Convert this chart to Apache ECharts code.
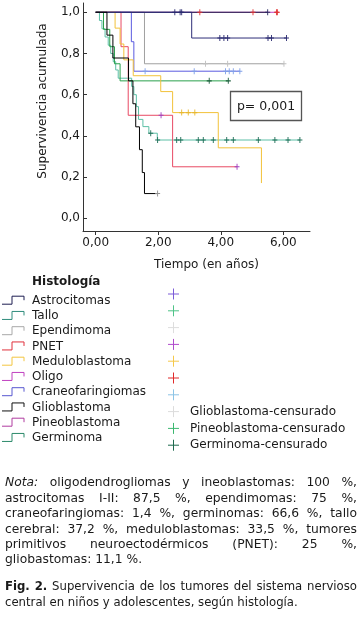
<!DOCTYPE html>
<html><head><meta charset="utf-8">
<script src="https://cdn.jsdelivr.net/npm/echarts@6/dist/echarts.min.js"></script>
<style>html,body{margin:0;padding:0;background:#fff}#c{width:363px;height:619px}</style>
</head><body><div id="c"></div>
<script>
// ---------------- DATA ----------------
const seriesNames = ['Astrocitomas','Tallo','Ependimoma','PNET','Meduloblastoma','Oligo','Craneofaringiomas','Glioblastoma','Pineoblastoma','Germinoma'];

const astroTime = [0, 3.07, 6.10];
const astroSurv = [1, 0.875, 0.875];
const astroCensT = [2.53, 2.70, 2.75, 3.97, 4.10, 4.22, 5.51, 5.62, 6.10];
const astroCensS = [1, 1, 1, 0.875, 0.875, 0.875, 0.875, 0.875, 0.875];

const talloTime = [0, 0.12, 0.20, 0.30, 0.40, 0.48, 0.56, 0.64, 0.72, 1.15, 1.22, 1.30, 1.37, 1.51, 1.70, 1.97, 6.53];
const talloSurv = [1, 0.96, 0.92, 0.88, 0.84, 0.80, 0.76, 0.72, 0.68, 0.64, 0.60, 0.542, 0.48, 0.445, 0.413, 0.38, 0.38];
const talloCensT = [1.76, 1.98, 2.59, 2.72, 3.28, 3.44, 3.76, 4.19, 4.40, 5.20, 5.73, 6.15, 6.53];
const talloCensS = [0.413, 0.38, 0.38, 0.38, 0.38, 0.38, 0.38, 0.38, 0.38, 0.38, 0.38, 0.38, 0.38];

const ependTime = [0, 1.56, 6.02];
const ependSurv = [1, 0.75, 0.75];
const ependCensT = [3.51, 4.22, 6.02];
const ependCensS = [0.75, 0.75, 0.75];

const pnetTime = [0, 0.81, 1.04, 2.46, 4.52];
const pnetSurv = [1, 0.833, 0.5, 0.25, 0.25];
const pnetCensT = [2.09, 4.52];
const pnetCensS = [0.5, 0.25];

const meduTime = [0, 0.62, 0.78, 0.90, 1.20, 2.08, 2.46, 3.92, 5.30];
const meduSurv = [1, 0.923, 0.846, 0.769, 0.692, 0.615, 0.513, 0.342, 0.171];
const meduCensT = [2.75, 2.96, 3.17];
const meduCensS = [0.513, 0.513, 0.513];

const oligoTime = [0, 5.81];
const oligoSurv = [1, 1];
const oligoCensT = [3.33, 5.03, 5.78, 5.81];
const oligoCensS = [1, 1, 1, 1];

const craneoTime = [0, 1.14, 1.22, 4.61];
const craneoSurv = [1, 0.857, 0.714, 0.714];
const craneoCensT = [1.58, 3.15, 4.15, 4.27, 4.40, 4.61];
const craneoCensS = [0.714, 0.714, 0.714, 0.714, 0.714, 0.714];

const glioTime = [0, 0.36, 0.55, 1.05, 1.19, 1.28, 1.40, 1.49, 1.56, 1.98];
const glioSurv = [1, 0.889, 0.778, 0.667, 0.556, 0.444, 0.333, 0.222, 0.12, 0.12];
const glioCensT = [1.98];
const glioCensS = [0.12];

const pineoTime = [0, 5.50];
const pineoSurv = [1, 1];
const pineoCensT = [5.50];
const pineoCensS = [1];

const germTime = [0, 0.25, 0.45, 0.60, 0.78, 4.24];
const germSurv = [1, 0.917, 0.833, 0.75, 0.667, 0.667];
const germCensT = [3.63, 4.24];
const germCensS = [0.667, 0.667];

const yTicks = [0, 0.2, 0.4, 0.6, 0.8, 1.0];
const xTicks = [0, 2, 4, 6];
const censorLegendLabels = ['', '', '', '', '', '', '', 'Glioblastoma-censurado', 'Pineoblastoma-censurado', 'Germinoma-censurado'];
const pValueText = 'p= 0,001';
const legendTitle = 'Histología';
const xAxisName = 'Tiempo (en años)';
const yAxisName = 'Supervivencia acumulada';
const noteLines = [
  'Nota: oligodendrogliomas y ineoblastomas: 100 %,',
  'astrocitomas I-II: 87,5 %, ependimomas: 75 %,',
  'craneofaringiomas: 1,4 %, germinomas: 66,6 %, tallo',
  'cerebral: 37,2 %, meduloblastomas: 33,5 %, tumores',
  'primitivos neuroectodérmicos (PNET): 25 %,',
  'gliobastomas: 11,1 %.'
];
const captionLines = [
  'Fig. 2. Supervivencia de los tumores del sistema nervioso',
  'central en niños y adolescentes, según histología.'
];

// ---------------- STYLE ----------------
const times = [astroTime, talloTime, ependTime, pnetTime, meduTime, oligoTime, craneoTime, glioTime, pineoTime, germTime];
const survs = [astroSurv, talloSurv, ependSurv, pnetSurv, meduSurv, oligoSurv, craneoSurv, glioSurv, pineoSurv, germSurv];
const censT = [astroCensT, talloCensT, ependCensT, pnetCensT, meduCensT, oligoCensT, craneoCensT, glioCensT, pineoCensT, germCensT];
const censS = [astroCensS, talloCensS, ependCensS, pnetCensS, meduCensS, oligoCensS, craneoCensS, glioCensS, pineoCensS, germCensS];

const lineColors = ['#2e2e78', '#5cbfa6', '#a0a0a0', '#e84a64', '#f2c23a', '#c040c0', '#5a5ae0', '#000000', '#1e1e48', '#2aa04c'];
const censorColors = ['#2a2a70', '#1f6f58', '#c0c0c0', '#a040c0', '#e8b830', '#e03434', '#80a0e8', '#909090', '#2a2a60', '#1f5f3f'];
const legendLineColors = ['#1c1c50', '#2e8c7c', '#a8a8a8', '#e0303c', '#f3c640', '#c040c0', '#5858d0', '#111111', '#b03ca0', '#2b8a6a'];
const legendCrossColors = ['#7c5cd8', '#4fc488', '#dddddd', '#b04ccc', '#f5c84a', '#e02a2a', '#8cc4e6', '#dcdcdc', '#3cb870', '#1e6a4e'];
const zOrder = [6, 3, 2, 4, 5, 2, 4, 7, 5, 3];

const FONT = "'DejaVu Sans', Verdana, sans-serif";
const TXT = '#1a1a1a';
const fN = '12px ' + FONT, fI = 'italic 12px ' + FONT, fB = 'bold 12px ' + FONT;
const nN = '12.3px ' + FONT, nI = 'italic 12.3px ' + FONT;
const cN = '11.7px ' + FONT, cB = 'bold 11.7px ' + FONT;

const mctx = document.createElement('canvas').getContext('2d');
function measure(t, font) { mctx.font = font; return mctx.measureText(t).width; }

function lineWords(words, y, left, right, justify, baseFont) {
  const widths = words.map(w => measure(w.t, w.font));
  const total = widths.reduce((a, b) => a + b, 0);
  const gap = (justify && words.length > 1) ? (right - left - total) / (words.length - 1) : measure(' ', baseFont);
  let x = left;
  const els = [];
  words.forEach((w, i) => {
    els.push({ type: 'text', x: x, y: y, silent: true,
      style: { text: w.t, font: w.font, fill: TXT, textVerticalAlign: 'middle' } });
    x += widths[i] + gap;
  });
  return els;
}

const graphics = [];
// axis names
graphics.push({ type: 'text', x: 206.5, y: 265, silent: true,
  style: { text: xAxisName, font: fN, fill: TXT, textAlign: 'center', textVerticalAlign: 'middle' } });
graphics.push({ type: 'text', x: 43, y: 101, rotation: Math.PI / 2, silent: true,
  style: { text: yAxisName, font: fN, fill: TXT, textAlign: 'center', textVerticalAlign: 'middle' } });
// p value box
graphics.push({ type: 'rect', shape: { x: 230.5, y: 91.5, width: 71, height: 29 }, silent: true,
  style: { fill: '#fff', stroke: '#555', lineWidth: 1.3 }, z: 50 });
graphics.push({ type: 'text', x: 266, y: 106.5, silent: true, z: 51,
  style: { text: pValueText, font: '12.5px ' + FONT, fill: TXT, textAlign: 'center', textVerticalAlign: 'middle' } });
// legend title
graphics.push({ type: 'text', x: 32, y: 282, silent: true,
  style: { text: legendTitle, font: fB, fill: TXT, textVerticalAlign: 'middle' } });
// legend lines
seriesNames.forEach((n, i) => {
  const yc = 300.7 + i * 15.25;
  graphics.push({ type: 'polyline', silent: true,
    shape: { points: [[2, yc + 3.5], [12, yc + 3.5], [12, yc - 4.5], [24, yc - 4.5], [24, yc - 0.5]] },
    style: { stroke: legendLineColors[i], fill: null, lineWidth: 1 } });
  graphics.push({ type: 'text', x: 32, y: yc, silent: true,
    style: { text: n, font: fN, fill: TXT, textVerticalAlign: 'middle' } });
});
// legend crosses
censorLegendLabels.forEach((lab, i) => {
  const yc = 294 + i * 16.8, xc = 173.5;
  graphics.push({ type: 'line', silent: true, shape: { x1: xc - 5.5, y1: yc, x2: xc + 5.5, y2: yc },
    style: { stroke: legendCrossColors[i], lineWidth: 1 } });
  graphics.push({ type: 'line', silent: true, shape: { x1: xc, y1: yc - 5.5, x2: xc, y2: yc + 5.5 },
    style: { stroke: legendCrossColors[i], lineWidth: 1 } });
  if (lab) graphics.push({ type: 'text', x: 190, y: yc, silent: true,
    style: { text: lab, font: fN, fill: TXT, textVerticalAlign: 'middle' } });
});
// note
noteLines.forEach((ln, i) => {
  const words = ln.split(' ').map((t, k) => ({ t: t, font: (i === 0 && k === 0) ? nI : nN }));
  lineWords(words, 483.3 + i * 15.4, 5, 357, i < noteLines.length - 1, nN).forEach(e => graphics.push(e));
});
// caption
captionLines.forEach((ln, i) => {
  const words = ln.split(' ').map((t, k) => ({ t: t, font: (i === 0 && k < 2) ? cB : cN }));
  lineWords(words, 587 + i * 16, 5, 357, i === 0, cN).forEach(e => graphics.push(e));
});

// ---------------- CHART ----------------
const zip = (a, b) => a.map((v, i) => [v, b[i]]);
const series = [];
seriesNames.forEach((n, i) => {
  series.push({ type: 'line', name: n, step: 'end', data: zip(times[i], survs[i]),
    showSymbol: false, symbol: 'none', silent: true, z: zOrder[i],
    lineStyle: { color: lineColors[i], width: 1 }, itemStyle: { color: lineColors[i] } });
});
seriesNames.forEach((n, i) => {
  series.push({ type: 'scatter', name: n + '-censurado', data: zip(censT[i], censS[i]),
    symbol: 'path://M5,0L5,10M0,5L10,5', symbolSize: [5, 6], silent: true, z: 10,
    itemStyle: { color: 'transparent', borderColor: censorColors[i], borderWidth: 1, opacity: 1 } });
});

const chart = echarts.init(document.getElementById('c'), null, { renderer: 'canvas' });
chart.setOption({
  animation: false,
  backgroundColor: '#fff',
  grid: { left: 83, top: 3, width: 227, height: 228, containLabel: false },
  xAxis: {
    type: 'value', min: -0.406, max: 6.853,
    axisLine: { show: true, onZero: false, lineStyle: { color: '#333', width: 1 } },
    axisTick: { show: true, length: 4, customValues: xTicks, lineStyle: { color: '#333' } },
    axisLabel: { customValues: xTicks, margin: 6, fontSize: 12, fontFamily: FONT, color: TXT,
      formatter: v => v.toFixed(2).replace('.', ',') },
    splitLine: { show: false }
  },
  yAxis: {
    type: 'value', min: -0.0617, max: 1.045,
    axisLine: { show: true, onZero: false, lineStyle: { color: '#333', width: 1 } },
    axisTick: { show: true, inside: true, length: 4, customValues: yTicks, lineStyle: { color: '#333' } },
    axisLabel: { customValues: yTicks, margin: 3, fontSize: 12, fontFamily: FONT, color: TXT,
      formatter: v => v.toFixed(1).replace('.', ',') },
    splitLine: { show: false }
  },
  series: series,
  graphic: { elements: graphics }
});
</script></body></html>
